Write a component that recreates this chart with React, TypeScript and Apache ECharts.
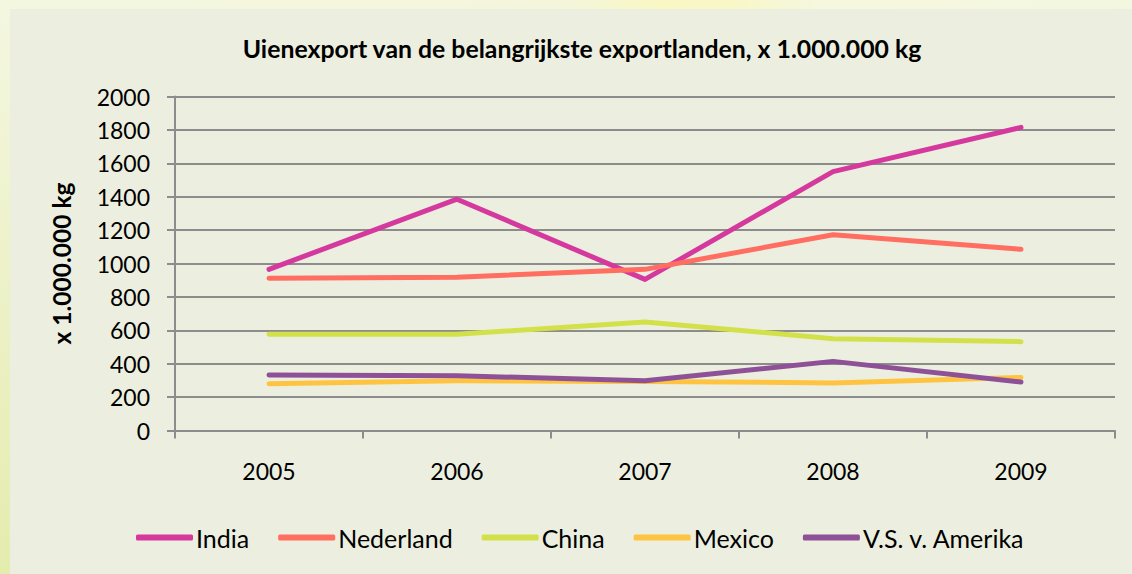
import React, { useEffect, useRef } from "react";
import * as echarts from "echarts";

const years = ["2005", "2006", "2007", "2008", "2009"];
const india = [965, 1385, 905, 1550, 1815];
const nederland = [912, 918, 965, 1172, 1085];
const china = [577, 576, 650, 550, 532];
const mexico = [280, 298, 294, 285, 318];
const usa = [333, 328, 298, 414, 290];

const seriesNames = ["India", "Nederland", "China", "Mexico", "V.S. v. Amerika"];
const seriesColors = ["#D5399E", "#FF6E61", "#D2E14A", "#FEC441", "#8E5197"];
const seriesData = [india, nederland, china, mexico, usa];

const FONT = "Lato, 'Liberation Sans', sans-serif";

export default function App() {
  const ref = useRef<HTMLDivElement>(null);
  useEffect(() => {
    if (!ref.current) return;
    const chart = echarts.init(ref.current, null, { renderer: "svg" });
    chart.setOption({
      animation: false,
      backgroundColor: "#ECEFDF",
      graphic: [
        {
          type: "rect",
          shape: { x: 0, y: 0, width: 1132, height: 9 },
          style: {
            fill: new echarts.graphic.LinearGradient(0, 0, 1, 0, [
              { offset: 0, color: "#F4F7E0" },
              { offset: 0.5, color: "#F4F6DC" },
              { offset: 0.58, color: "#F9F7C4" },
              { offset: 0.64, color: "#F9F7C6" },
              { offset: 0.72, color: "#F5F7DE" },
              { offset: 1, color: "#F4F7E0" },
            ]),
          },
          silent: true,
          z: -10,
        },
        {
          type: "rect",
          shape: { x: 0, y: 9, width: 10, height: 565 },
          style: {
            fill: new echarts.graphic.LinearGradient(0, 0, 0, 1, [
              { offset: 0, color: "#F4F7E0" },
              { offset: 1, color: "#E4ECAE" },
            ]),
          },
          silent: true,
          z: -10,
        },
      ],
      title: {
        text: "Uienexport van de belangrijkste exportlanden, x 1.000.000 kg",
        left: 577,
        textAlign: "center",
        top: 31,
        textStyle: {
          fontFamily: FONT,
          fontWeight: "bold",
          fontSize: 24.8,
          color: "#000000",
        },
      },
      legend: {
        bottom: 19,
        left: 131,
        itemWidth: 57,
        itemHeight: 6,
        itemGap: 29,
        icon: "roundRect",
        textStyle: {
          fontFamily: FONT,
          fontSize: 25,
          color: "#000000",
          padding: [0, 0, 0, -2],
        },
        data: seriesNames,
      },
      grid: {
        left: 175,
        right: 17,
        top: 96.5,
        bottom: 143.5,
        containLabel: false,
      },
      xAxis: {
        type: "category",
        data: years,
        boundaryGap: true,
        axisLine: { show: true, lineStyle: { color: "#8C8C8C", width: 2 } },
        axisTick: { show: true, length: 8, lineStyle: { color: "#8C8C8C", width: 2 } },
        axisLabel: {
          margin: 29,
          fontFamily: FONT,
          fontSize: 23,
          color: "#000000",
        },
        splitLine: { show: false },
      },
      yAxis: {
        type: "value",
        min: 0,
        max: 2000,
        interval: 200,
        name: "x 1.000.000 kg",
        nameLocation: "middle",
        nameRotate: 90,
        nameGap: 101,
        nameTextStyle: {
          fontFamily: FONT,
          fontWeight: "bold",
          fontSize: 24.5,
          color: "#000000",
        },
        axisLine: { show: true, lineStyle: { color: "#8C8C8C", width: 2 } },
        axisTick: { show: true, length: 8, lineStyle: { color: "#8C8C8C", width: 2 } },
        axisLabel: {
          margin: 25,
          fontFamily: FONT,
          fontSize: 23,
          color: "#000000",
          formatter: (v: number) => String(v),
        },
        splitLine: { show: true, lineStyle: { color: "#8C8C8C", width: 2 } },
      },
      series: seriesNames.map((name, i) => ({
        name,
        type: "line",
        data: seriesData[i],
        showSymbol: false,
        symbol: "none",
        color: seriesColors[i],
        lineStyle: { width: 5, color: seriesColors[i], cap: "round", join: "round" },
        itemStyle: { color: seriesColors[i] },
      })),
    });
    return () => chart.dispose();
  }, []);
  return (
    <div
      ref={ref}
      style={{ position: "fixed", left: 0, top: 0, width: 1132, height: 574 }}
    />
  );
}
